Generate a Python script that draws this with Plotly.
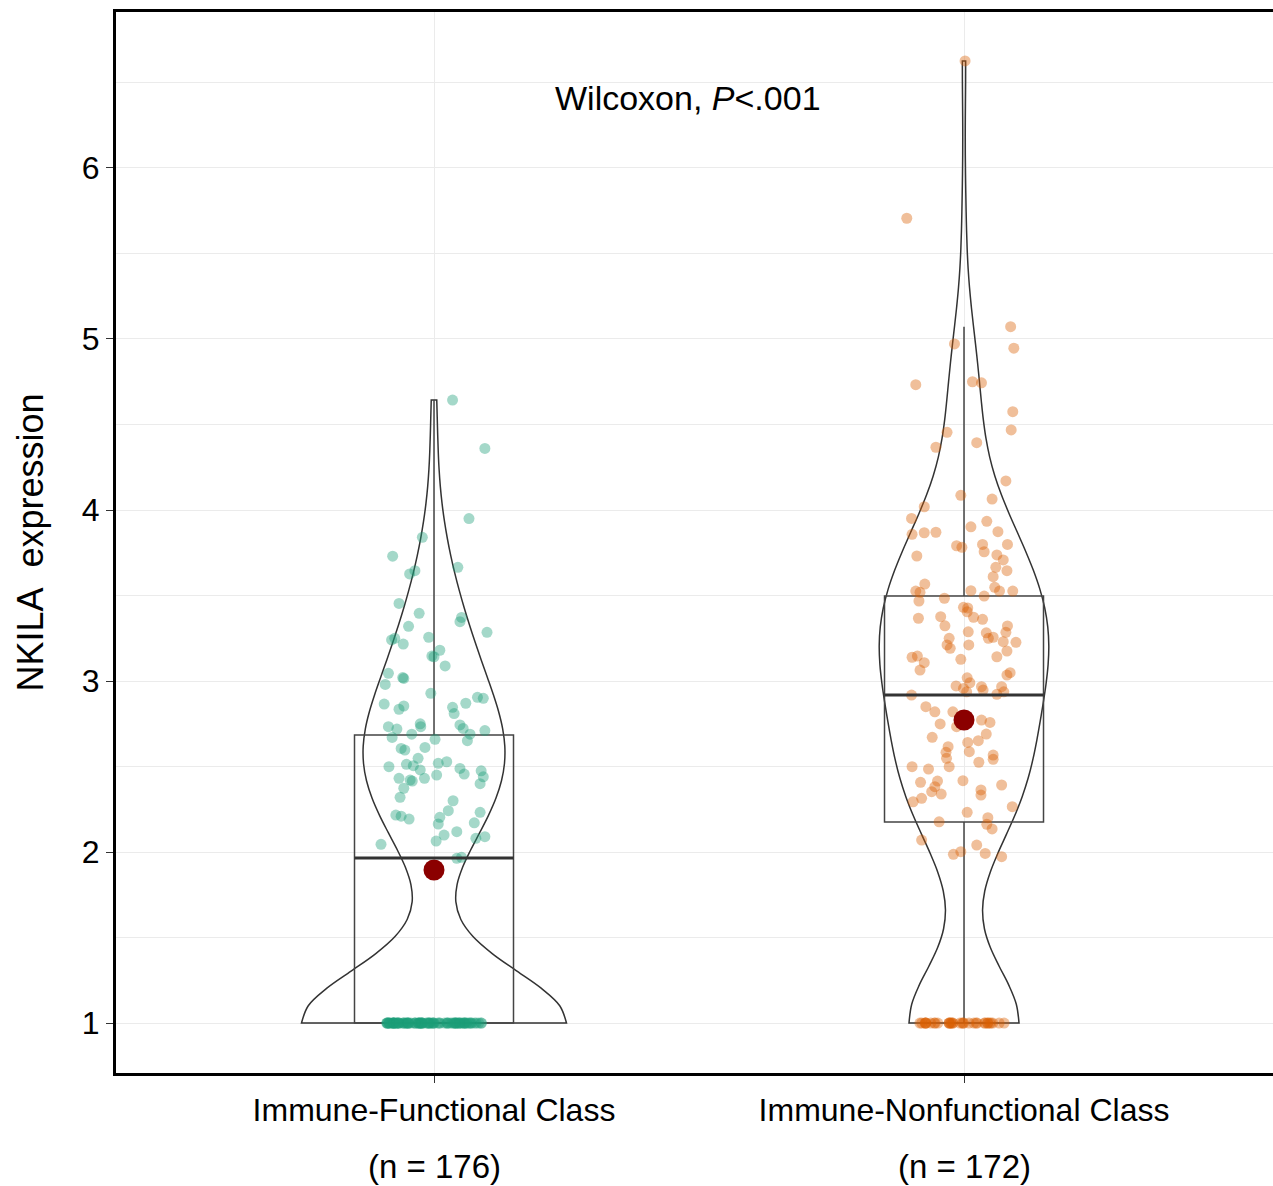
import numpy as np
import plotly.graph_objects as go

# ---------------- data ----------------
categories = ["Immune-Functional Class", "Immune-Nonfunctional Class"]
n_labels = ["(n = 176)", "(n = 172)"]
positions = [0, 1]

# samples above the detection floor (value, horizontal jitter in category units)
functional_values = [
    4.643, 4.36, 3.95, 3.84, 3.73, 3.645, 3.626, 3.665, 3.454, 3.396,
    3.372, 3.347, 3.285, 3.32, 3.25, 3.24, 3.216, 3.256, 3.18, 3.146,
    3.142, 3.088, 3.045, 3.02, 3.015, 2.98, 2.928, 2.865, 2.854, 2.835,
    2.846, 2.81, 2.87, 2.905, 2.899, 2.733, 2.719, 2.75, 2.733, 2.689,
    2.67, 2.743, 2.723, 2.689, 2.651, 2.71, 2.659, 2.606, 2.596, 2.612,
    2.548, 2.499, 2.513, 2.505, 2.48, 2.519, 2.528, 2.45, 2.489, 2.456,
    2.475, 2.44, 2.40, 2.431, 2.421, 2.415, 2.431, 2.373, 2.32, 2.30,
    2.242, 2.232, 2.216, 2.21, 2.193, 2.203, 2.164, 2.171, 2.119, 2.099,
    2.064, 2.08, 2.09, 2.045, 1.963, 1.969,
]
functional_jitter = [
    0.035, 0.096, 0.066, -0.022, -0.078, -0.036, -0.046, 0.045, -0.066, -0.028,
    0.052, 0.049, 0.10, -0.048, -0.074, -0.08, -0.058, -0.01, 0.011, -0.004,
    0.000, 0.021, -0.086, -0.059, -0.057, -0.092, -0.006, -0.094, -0.057, -0.066,
    0.035, 0.038, 0.06, 0.082, 0.093, -0.086, -0.07, -0.026, -0.025, -0.042,
    -0.079, 0.049, 0.055, 0.068, 0.063, 0.096, 0.002, -0.062, -0.055, -0.017,
    -0.03, -0.085, -0.052, -0.039, -0.026, 0.008, 0.024, 0.005, 0.049, 0.057,
    0.089, 0.093, 0.087, -0.066, -0.045, -0.041, -0.018, -0.057, -0.064, 0.036,
    0.027, 0.087, -0.072, -0.062, -0.047, 0.011, 0.008, 0.076, 0.043, 0.019,
    0.004, 0.079, 0.096, -0.1, 0.043, 0.052,
]
functional_floor_count = 87   # samples sitting at the floor value 1.0

nonfunctional_values = [
    6.626, 5.706, 5.072, 4.946, 4.971, 4.733, 4.750, 4.744, 4.575, 4.468,
    4.454, 4.394, 4.367, 4.170, 4.086, 4.064, 4.019, 3.951, 3.934, 3.902,
    3.858, 3.867, 3.870, 3.873, 3.799, 3.791, 3.782, 3.799, 3.756, 3.731,
    3.737, 3.708, 3.665, 3.645, 3.610, 3.567, 3.548, 3.526, 3.526, 3.526,
    3.519, 3.528, 3.497, 3.484, 3.468, 3.431, 3.427, 3.405, 3.373, 3.361,
    3.376, 3.367, 3.323, 3.322, 3.288, 3.211, 3.285, 3.282, 3.250, 3.256,
    3.250, 3.226, 3.230, 3.211, 3.191, 3.142, 3.175, 3.139, 3.146, 3.107,
    3.064, 3.127, 3.035, 3.049, 3.019, 2.990, 2.971, 2.957, 2.937, 2.967,
    2.947, 2.967, 2.937, 2.922, 2.918, 2.850, 2.820, 2.820, 2.772, 2.758,
    2.749, 2.733, 2.690, 2.671, 2.651, 2.641, 2.587, 2.616, 2.583, 2.548,
    2.499, 2.567, 2.542, 2.525, 2.499, 2.485, 2.417, 2.408, 2.415, 2.382,
    2.353, 2.339, 2.392, 2.363, 2.333, 2.314, 2.294, 2.265, 2.232, 2.201,
    2.162, 2.135, 2.177, 2.070, 2.041, 1.987, 2.002, 1.992, 1.973,
]
nonfunctional_jitter = [
    0.002, -0.108, 0.088, 0.094, -0.018, -0.091, 0.016, 0.033, 0.092, 0.089,
    -0.032, 0.024, -0.053, 0.079, -0.006, 0.053, -0.075, -0.099, 0.043, 0.013,
    -0.098, -0.075, -0.053, 0.064, 0.082, -0.014, -0.004, 0.035, 0.038, -0.089,
    0.062, 0.074, 0.060, 0.081, 0.055, -0.074, 0.058, 0.067, 0.092, -0.091,
    -0.083, 0.013, 0.038, -0.037, -0.085, -0.001, 0.007, 0.006, 0.018, 0.035,
    -0.044, -0.086, -0.036, 0.082, 0.008, 0.009, 0.079, 0.042, 0.046, 0.055,
    -0.028, 0.098, 0.074, -0.032, -0.026, 0.062, 0.081, -0.098, -0.088, -0.075,
    -0.083, -0.006, 0.081, 0.087, 0.006, 0.011, -0.015, -0.001, 0.005, 0.033,
    0.036, 0.071, 0.075, 0.062, -0.099, -0.072, -0.055, -0.021, 0.033, 0.049,
    -0.045, -0.014, 0.042, -0.060, 0.027, 0.007, 0.010, -0.030, -0.034, -0.033,
    -0.028, 0.055, 0.055, 0.028, -0.098, -0.067, -0.002, -0.082, -0.050, -0.055,
    -0.061, -0.043, 0.071, 0.032, 0.032, -0.080, -0.096, 0.091, 0.006, 0.045,
    0.043, 0.053, -0.047, -0.080, 0.024, -0.020, -0.006, 0.040, 0.071,
]
nonfunctional_floor_count = 34

floor_value = 1.0

# box-plot statistics and means
box_q1 = [1.0, 2.175]
box_median = [1.965, 2.918]
box_q3 = [2.684, 3.497]
box_lower = [1.0, 1.0]
box_upper = [4.643, 5.072]
group_means = [1.895, 2.772]

# ---------------- styling ----------------
FONT = "Liberation Sans, Arial, Helvetica, sans-serif"
point_colors = ["rgba(27,158,119,0.4)", "rgba(217,95,2,0.4)"]
violin_widths = [0.5, 0.32]
floor_jitter = [0.6, 0.57]
BOX_W = 0.3
LINE = "#333333"


def nrd0(v):
    v = np.asarray(v, dtype=float)
    sd = v.std(ddof=1)
    q75, q25 = np.percentile(v, [75, 25])
    lo = min(sd, (q75 - q25) / 1.34)
    return 0.9 * lo * len(v) ** (-0.2)


groups = [
    (functional_values, functional_jitter, functional_floor_count),
    (nonfunctional_values, nonfunctional_jitter, nonfunctional_floor_count),
]

fig = go.Figure()

for i, (vals, jit, nfloor) in enumerate(groups):
    pos = positions[i]
    all_vals = list(vals) + [floor_value] * nfloor
    fig.add_trace(go.Violin(
        x0=pos, y=all_vals, name=categories[i],
        points=False, box_visible=False, meanline_visible=False,
        spanmode="hard", bandwidth=nrd0(all_vals),
        width=violin_widths[i], scalemode="width",
        fillcolor="rgba(0,0,0,0)", line=dict(color=LINE, width=1.5),
        hoverinfo="skip", showlegend=False,
    ))

for i in range(2):
    fig.add_trace(go.Box(
        x=[positions[i]], q1=[box_q1[i]], median=[box_median[i]],
        q3=[box_q3[i]], lowerfence=[box_lower[i]], upperfence=[box_upper[i]],
        width=BOX_W, whiskerwidth=0, boxpoints=False,
        fillcolor="rgba(0,0,0,0)", line=dict(color="#444444", width=1.5),
        hoverinfo="skip", showlegend=False,
    ))
    # floor samples, spread with the library's jitter
    nfloor = groups[i][2]
    fig.add_trace(go.Box(
        x0=positions[i], y=[floor_value] * nfloor,
        boxpoints="all", jitter=floor_jitter[i], pointpos=0, width=BOX_W,
        fillcolor="rgba(0,0,0,0)", line=dict(color="rgba(0,0,0,0)", width=0),
        marker=dict(color=point_colors[i], size=11),
        hoverinfo="skip", showlegend=False,
    ))

for i, (vals, jit, nfloor) in enumerate(groups):
    fig.add_trace(go.Scatter(
        x=[positions[i] + j for j in jit], y=vals, mode="markers",
        marker=dict(color=point_colors[i], size=11, line=dict(width=0)),
        hoverinfo="skip", showlegend=False,
    ))

fig.add_trace(go.Scatter(
    x=positions, y=group_means, mode="markers",
    marker=dict(color="#8B0000", size=21, line=dict(width=0)),
    hoverinfo="skip", showlegend=False,
))

shapes = []
for i in range(2):
    shapes.append(dict(
        type="line", xref="x", yref="y",
        x0=positions[i] - BOX_W / 2, x1=positions[i] + BOX_W / 2,
        y0=box_median[i], y1=box_median[i],
        line=dict(color=LINE, width=3),
    ))

annotations = [
    dict(text="Wilcoxon, <i>P</i>&lt;.001", xref="x", yref="y", x=0.479, y=6.41,
         showarrow=False, font=dict(family=FONT, size=34, color="black")),
    dict(text="NKILA\u00a0 expression", xref="paper", yref="paper", x=0, y=0.5,
         xshift=-86, xanchor="center", textangle=-90, showarrow=False,
         font=dict(family=FONT, size=36, color="black")),
]
for i in range(2):
    annotations.append(dict(
        text=n_labels[i], xref="x", yref="paper", x=positions[i], y=0,
        yshift=-93, yanchor="middle", showarrow=False,
        font=dict(family=FONT, size=33, color="black"),
    ))

fig.update_layout(
    width=1273, height=1186,
    margin=dict(l=116, r=0, t=12, b=113),
    paper_bgcolor="white", plot_bgcolor="white",
    font=dict(family=FONT, size=32, color="black"),
    violinmode="overlay", boxmode="overlay",
    showlegend=False,
    shapes=shapes, annotations=annotations,
    xaxis=dict(
        range=[-0.6, 1.583], tickmode="array", tickvals=positions,
        ticktext=categories, showgrid=True, gridcolor="#ebebeb", gridwidth=1,
        zeroline=False, showline=True, linecolor="black", linewidth=2.5,
        mirror=True, ticks="outside", ticklen=7, tickcolor="#333333",
        tickfont=dict(family=FONT, size=32, color="black"),
    ),
    yaxis=dict(
        range=[0.708, 6.912], tickmode="linear", tick0=1, dtick=1,
        showgrid=True, gridcolor="#ebebeb", gridwidth=1,
        minor=dict(tickmode="linear", tick0=0.5, dtick=0.5, showgrid=True,
                   gridcolor="#ebebeb", gridwidth=1, ticks=""),
        zeroline=False, showline=True, linecolor="black", linewidth=3,
        mirror=False, ticks="outside", ticklen=7, tickcolor="#333333",
        tickfont=dict(family=FONT, size=32, color="black"),
    ),
)

fig.write_html("out.html")
